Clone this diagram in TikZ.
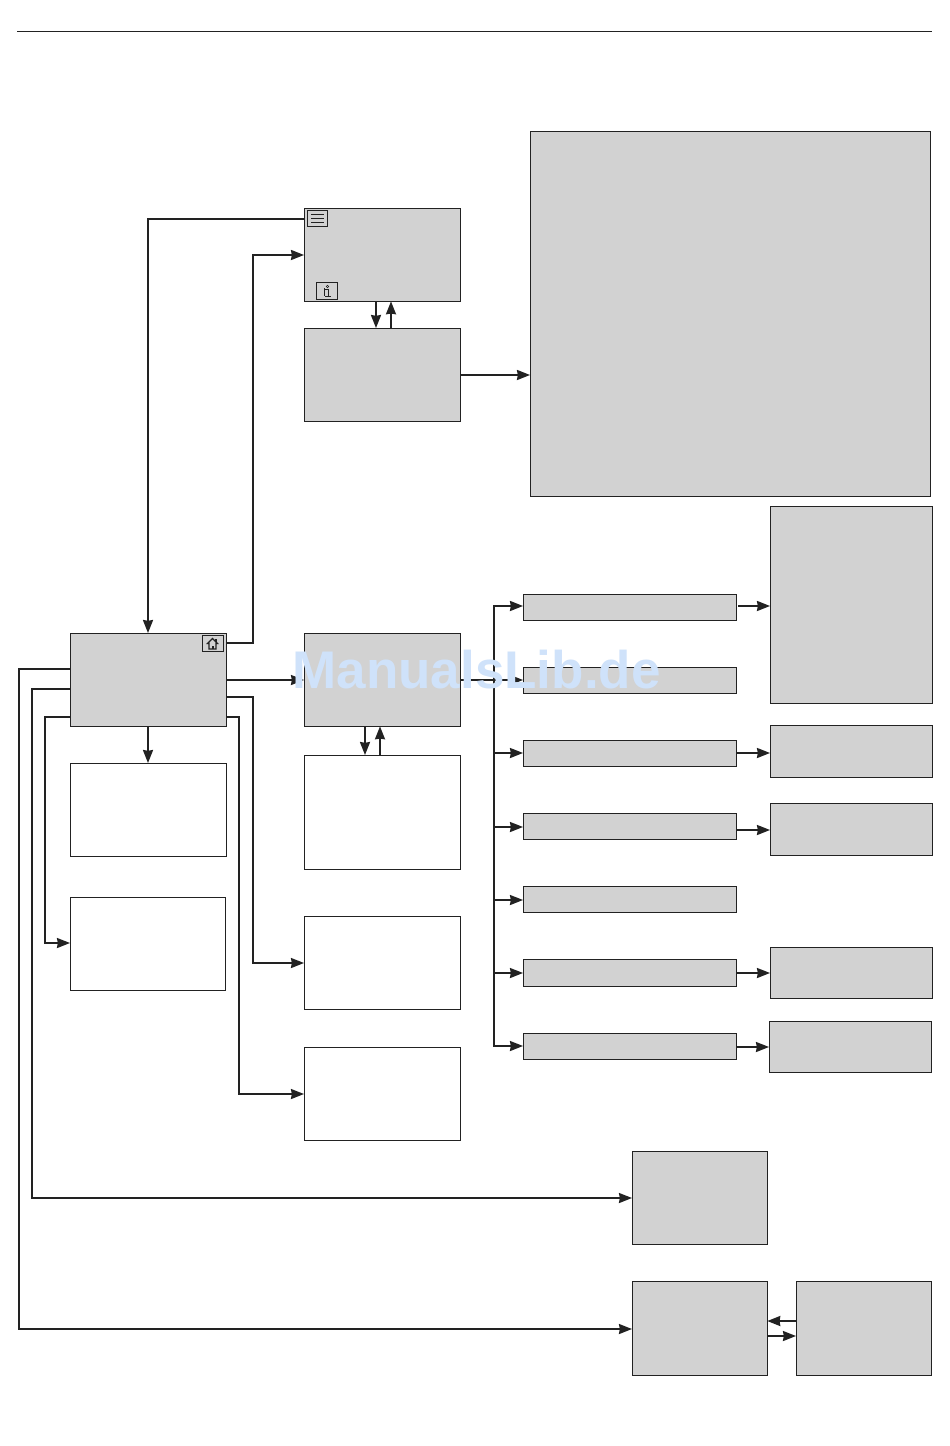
\documentclass[tikz,border=0pt]{standalone}
\usepackage{fontspec}
\setmainfont{Liberation Sans}
\usetikzlibrary{arrows.meta}
\definecolor{boxgrey}{HTML}{D2D2D2}
\definecolor{inkc}{HTML}{222222}
\definecolor{wmark}{HTML}{CFE2FA}
\newcommand{\bx}[6]{\node[#1,minimum width={#5-#3-0.7},minimum height={#6-#4-0.7}] (#2) at ({(#3+#5-0.7)/2},{(#4+#6-0.7)/2}) {};}
\tikzset{
  gbox/.style={draw=inkc,fill=boxgrey,line width=0.9pt,inner sep=0pt,outer sep=0pt},
  wbox/.style={draw=inkc,fill=white,line width=0.7pt,inner sep=0pt,outer sep=0pt},
  ibox/.style={draw=inkc,fill=boxgrey,line width=1pt,inner sep=0pt,outer sep=0pt},
  conn/.style={draw=inkc,line width=1.9pt,-{Stealth[length=13pt,width=10pt,inset=0.8pt]}},
  icon/.style={draw=inkc,line width=0.7pt},
}
\begin{document}
\begin{tikzpicture}[x=1pt,y=-1pt]
\useasboundingbox (0,0) rectangle (950,1446);
\fill[white] (0,0) rectangle (950,1446);
\coordinate (ruleL) at (17,31);
\coordinate (ruleR) at (932,31);
\draw[inkc,line width=0.8pt] (ruleL) -- (ruleR);
% boxes
\bx{gbox}{A}{304}{208}{461}{302}
\bx{gbox}{B}{304}{328}{461}{422}
\bx{gbox}{C}{530}{131}{931}{497}
\bx{gbox}{M}{70}{633}{227}{727}
\bx{gbox}{N}{304}{633}{461}{727}
\bx{wbox}{WA}{70}{763}{227}{857}
\bx{wbox}{WB}{70}{897}{226}{991}
\bx{wbox}{WC}{304}{755}{461}{870}
\bx{wbox}{WD}{304}{916}{461}{1010}
\bx{wbox}{WE}{304}{1047}{461}{1141}
\bx{gbox}{La}{523}{594}{737}{621}
\bx{gbox}{Lb}{523}{667}{737}{694}
\bx{gbox}{Lc}{523}{740}{737}{767}
\bx{gbox}{Ld}{523}{813}{737}{840}
\bx{gbox}{Le}{523}{886}{737}{913}
\bx{gbox}{Lf}{523}{959}{737}{987}
\bx{gbox}{Lg}{523}{1033}{737}{1060}
\bx{gbox}{Ra}{770}{506}{933}{704}
\bx{gbox}{Rb}{770}{725}{933}{778}
\bx{gbox}{Rc}{770}{803}{933}{856}
\bx{gbox}{Rd}{770}{947}{933}{999}
\bx{gbox}{Re}{769}{1021}{932}{1073}
\bx{gbox}{Ba}{632}{1151}{768}{1245}
\bx{gbox}{Bb}{632}{1281}{768}{1376}
\bx{gbox}{Bc}{796}{1281}{932}{1376}
% icon frames
\bx{ibox}{Im}{307}{210}{328}{227}
\bx{ibox}{Ii}{316}{282}{338}{300}
\bx{ibox}{Ih}{202}{635}{224}{652}
% menu icon
\draw[icon] (311,214.5) -- (323.5,214.5) (311,218.5) -- (323.5,218.5) (311,222.5) -- (323.5,222.5);
% info icon
\draw[icon,line width=0.6pt] (327.5,286.5) circle (1.3);
\draw[icon,line width=0.8pt] (325,289.5) -- (328,289.5) -- (328,296) (325,296.5) -- (331,296.5);
\draw[icon,line width=0.5pt] (324.5,288) -- (324.5,296);
% house icon
\draw[icon,line width=1.1pt,fill=boxgrey] (207.5,643.5) -- (212.5,638.5) -- (217.5,643.5) -- (216,643.5) -- (216,649) -- (209,649) -- (209,643.5) -- cycle;
\fill[inkc] (211.5,645.5) rectangle (213.5,649);
\fill[inkc] (215,639) rectangle (216.5,642);
% connectors
\draw[conn] (A.west |- 0,219) -- (148,219) -- (M.north -| 148,0);
\draw[conn] (M.east |- 0,643) -- (253,643) -- (253,255) -- (A.west |- 0,255);
\draw[conn] (A.south -| 376,0) -- (B.north -| 376,0);
\draw[conn] (B.north -| 391,0) -- (A.south -| 391,0);
\draw[conn] (B.east |- 0,375) -- (C.west |- 0,375);
\draw[conn] (M.east |- 0,680) -- (N.west |- 0,680);
\draw[conn] (M.south -| 148,0) -- (WA.north -| 148,0);
\draw[conn] (N.south -| 365,0) -- (WC.north -| 365,0);
\draw[conn] (WC.north -| 380,0) -- (N.south -| 380,0);
\draw[conn] (M.east |- 0,697) -- (253,697) -- (253,963) -- (WD.west |- 0,963);
\draw[conn] (M.east |- 0,717) -- (239,717) -- (239,1094) -- (WE.west |- 0,1094);
\draw[conn] (M.west |- 0,717) -- (45,717) -- (45,943) -- (WB.west |- 0,943);
\draw[conn] (M.west |- 0,689) -- (32,689) -- (32,1198) -- (Ba.west |- 0,1198);
\draw[conn] (M.west |- 0,669) -- (19,669) -- (19,1329) -- (Bb.west |- 0,1329);
\draw[conn] (Bb.east |- 0,1336) -- (Bc.west |- 0,1336);
\draw[conn] (Bc.west |- 0,1321) -- (Bb.east |- 0,1321);
% bus
\draw[conn] (N.east |- 0,680) -- (Lb.west |- 0,680);
\draw[conn] (494,680) -- (494,606) -- (La.west |- 0,606);
\draw[conn] (494,680) -- (494,1046) -- (Lg.west |- 0,1046);
\draw[conn] (494,753) -- (Lc.west |- 0,753);
\draw[conn] (494,827) -- (Ld.west |- 0,827);
\draw[conn] (494,900) -- (Le.west |- 0,900);
\draw[conn] (494,973) -- (Lf.west |- 0,973);
% list to right
\draw[conn] (738,606) -- (Ra.west |- 0,606);
\draw[conn] (Lc.east |- 0,753) -- (Rb.west |- 0,753);
\draw[conn] (Ld.east |- 0,830) -- (Rc.west |- 0,830);
\draw[conn] (Lf.east |- 0,973) -- (Rd.west |- 0,973);
\draw[conn] (Lg.east |- 0,1047) -- (Re.west |- 0,1047);
% watermark
\node[inner sep=0pt,text=wmark,font=\bfseries\fontsize{53pt}{60pt}\selectfont] (wm) at (476.5,669.5) {ManualsLib.de};
\end{tikzpicture}
\end{document}
